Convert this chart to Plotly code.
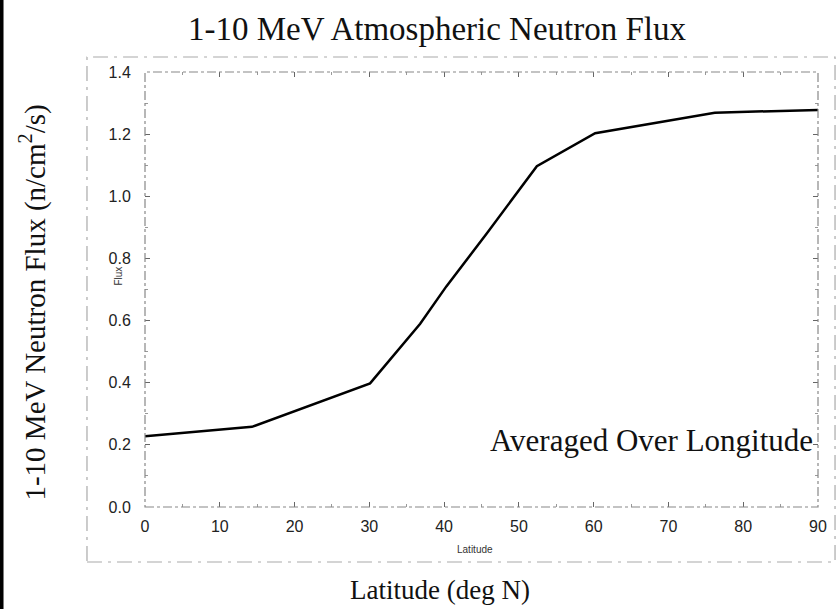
import plotly.graph_objects as go

latitude = [0, 14.3, 30.1, 36.8, 40.3, 45.7, 52.4, 60.2, 76.2, 90]
flux = [0.228, 0.258, 0.398, 0.59, 0.71, 0.88, 1.097, 1.203, 1.269, 1.278]

x_ticks = [0, 10, 20, 30, 40, 50, 60, 70, 80, 90]
y_ticks = [0.0, 0.2, 0.4, 0.6, 0.8, 1.0, 1.2, 1.4]
y_tick_text = ["0.0", "0.2", "0.4", "0.6", "0.8", "1.0", "1.2", "1.4"]

title_text = "1-10 MeV Atmospheric Neutron Flux"
y_title = "1-10 MeV Neutron Flux (n/cm<sup>2</sup>/s)"
x_title = "Latitude (deg N)"
note_text = "Averaged Over Longitude"

serif = "Liberation Serif, Times New Roman, serif"
sans = "Liberation Sans, Arial, sans-serif"

fig = go.Figure()
fig.add_trace(go.Scatter(x=latitude, y=flux, mode="lines",
                         line=dict(color="black", width=2.5), showlegend=False))

axis_common = dict(showgrid=False, zeroline=False, showline=True,
                   linecolor="rgba(0,0,0,0)", mirror="allticks",
                   ticks="inside", ticklen=5, tickcolor="#666", tickwidth=1,
                   tickfont=dict(family=sans, size=16, color="#222"))

fig.update_xaxes(range=[0, 90], tickvals=x_ticks, ticktext=[str(v) for v in x_ticks],
                 ticklabelstandoff=5,
                 minor=dict(dtick=5, ticks="inside", ticklen=3, tickcolor="#999"),
                 **axis_common)
fig.update_yaxes(range=[0, 1.4], tickvals=y_ticks, ticktext=y_tick_text,
                 ticklabelstandoff=10,
                 minor=dict(dtick=0.1, ticks="inside", ticklen=3, tickcolor="#999"),
                 **axis_common)

shapes = [
    dict(type="rect", xref="paper", yref="paper", x0=0, x1=1, y0=0, y1=1,
         line=dict(color="#888", width=1.2, dash="dashdot")),
    dict(type="rect", xref="paper", yref="paper", x0=-0.0862, x1=1.0253, y0=-0.1264, y1=1.0345,
         line=dict(color="#aaa", width=1.2, dash="longdashdot")),
    dict(type="line", xref="paper", yref="paper", x0=-0.2132, x1=-0.2132, y0=-0.24, y1=1.17,
         line=dict(color="black", width=4)),
]

annotations = [
    dict(text=title_text, xref="paper", yref="paper", x=0.434, y=1.098,
         xanchor="center", yanchor="middle", showarrow=False,
         font=dict(family=serif, size=33, color="#111")),
    dict(text=y_title, xref="paper", yref="paper", x=-0.1664, y=0.470,
         xanchor="center", yanchor="middle", showarrow=False, textangle=-90,
         font=dict(family=serif, size=29, color="#111")),
    dict(text=x_title, xref="paper", yref="paper", x=0.438, y=-0.191,
         xanchor="center", yanchor="middle", showarrow=False,
         font=dict(family=serif, size=27, color="#111")),
    dict(text="Flux", xref="paper", yref="paper", x=-0.040, y=0.530,
         xanchor="center", yanchor="middle", showarrow=False, textangle=-90,
         font=dict(family=sans, size=10, color="#333")),
    dict(text="Latitude", xref="paper", yref="paper", x=0.490, y=-0.0966,
         xanchor="center", yanchor="middle", showarrow=False,
         font=dict(family=sans, size=10, color="#333")),
    dict(text=note_text, xref="paper", yref="paper", x=0.9955, y=0.152,
         xanchor="right", yanchor="middle", showarrow=False,
         font=dict(family=serif, size=31, color="#111")),
]

fig.update_layout(width=839, height=609,
                  margin=dict(l=145, r=21, t=72, b=102),
                  paper_bgcolor="white", plot_bgcolor="white",
                  shapes=shapes, annotations=annotations)

fig.write_html("out.html", config={"displayModeBar": False},
               post_script="document.body.style.margin='0';document.body.style.overflow='hidden';")
